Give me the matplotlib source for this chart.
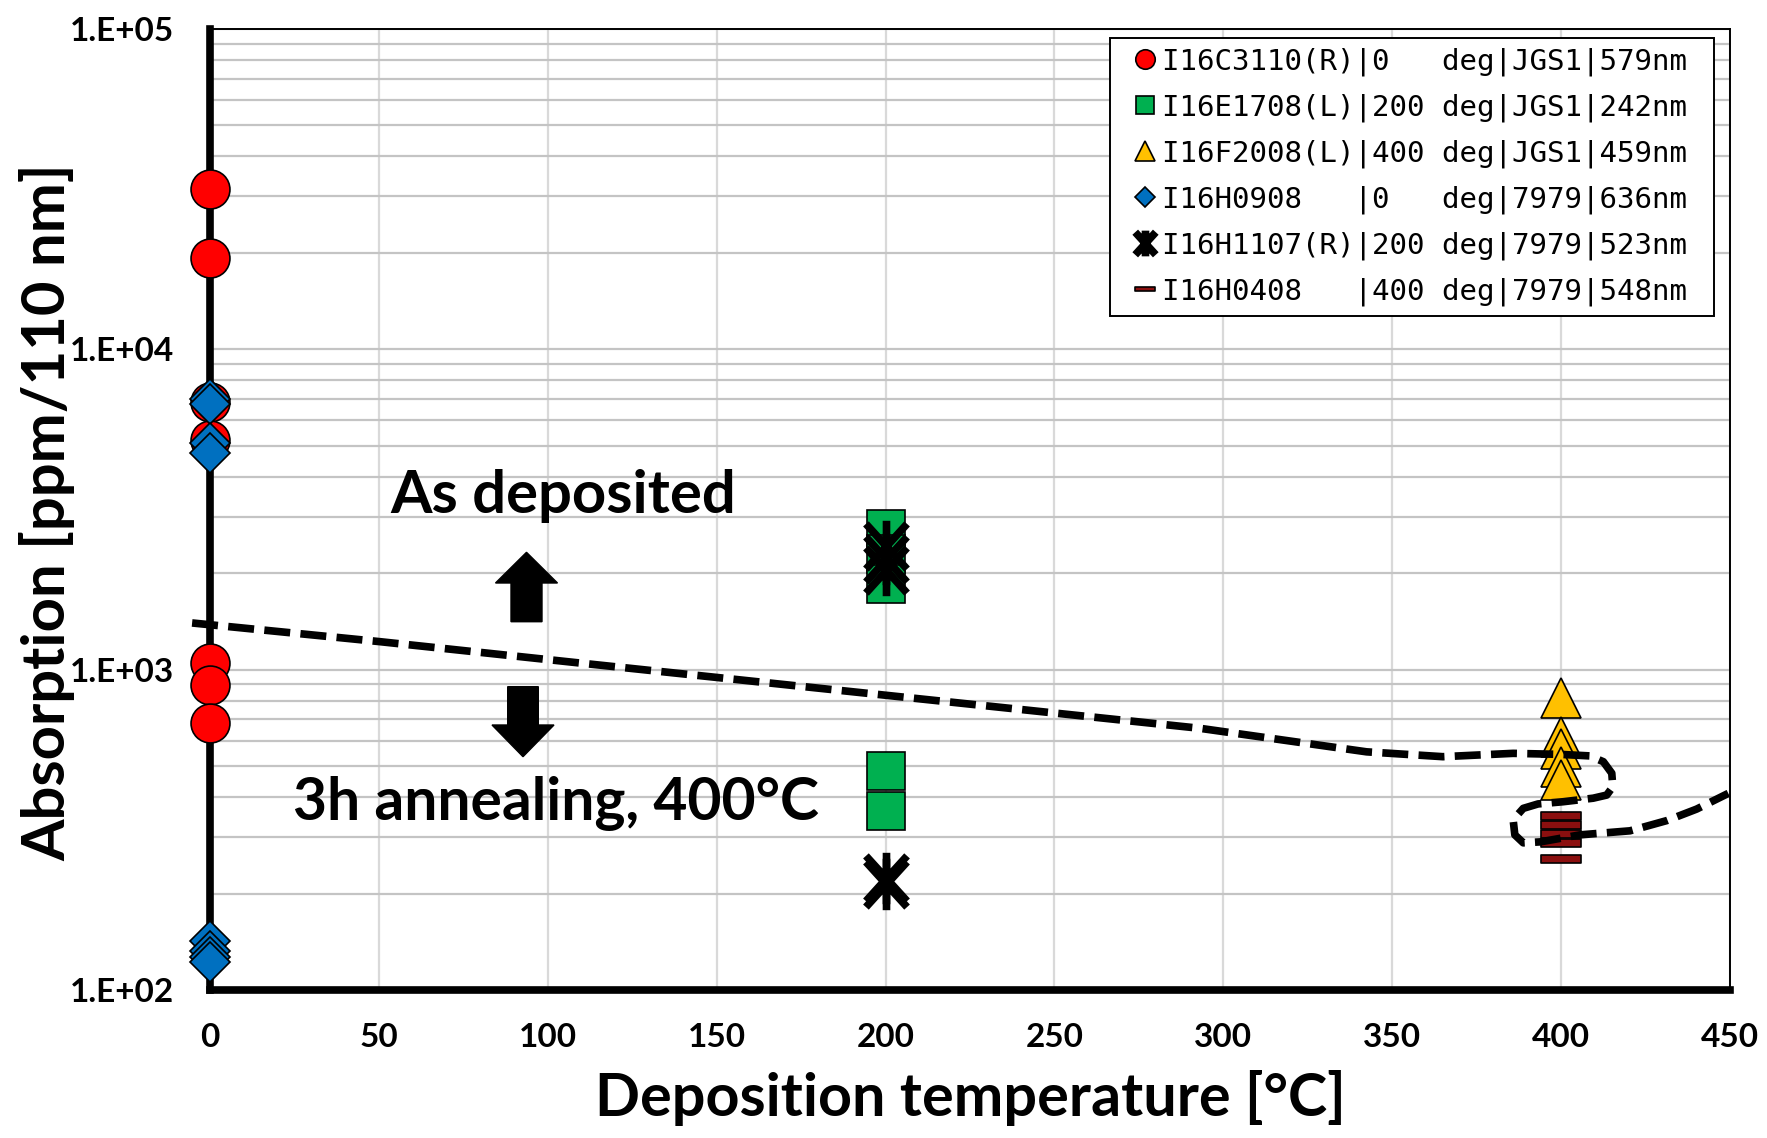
import numpy as np
import matplotlib
matplotlib.use('Agg')
import matplotlib.pyplot as plt
from matplotlib.path import Path
from matplotlib.patches import FancyArrow
from matplotlib.ticker import FixedLocator, FuncFormatter, LogLocator, NullFormatter

# fonts: Lato ~ Calibri
plt.rcParams['font.family'] = ['Lato', 'DejaVu Sans']
plt.rcParams['font.weight'] = 'bold'

# data (deposition temperature, absorption ppm/110 nm)
labels = ['I16C3110(R)|0   deg|JGS1|579nm',
          'I16E1708(L)|200 deg|JGS1|242nm',
          'I16F2008(L)|400 deg|JGS1|459nm',
          'I16H0908   |0   deg|7979|636nm',
          'I16H1107(R)|200 deg|7979|523nm',
          'I16H0408   |400 deg|7979|548nm']

t_c3110 = [0, 0, 0, 0, 0, 0, 0]
a_c3110 = [31700, 19300, 6860, 5210, 1046, 895, 680]
t_e1708 = [200, 200, 200, 200, 200]
a_e1708 = [2750, 2300, 1850, 484, 363]
t_f2008 = [400, 400, 400, 400, 400]
a_f2008 = [815, 616, 566, 498, 452]
t_h0908 = [0, 0, 0, 0, 0, 0, 0, 0]
a_h0908 = [7000, 6750, 5100, 4750, 142, 132, 127, 122]
t_h1107 = [200, 200, 200, 200, 200]
a_h1107 = [2430, 2220, 2040, 224, 214]
t_h0408 = [400, 400, 400, 400, 400]
a_h0408 = [349, 328, 308, 287, 257]

# dashed separation curve (hand drawn in the original)
guide_t = [-5.3, 50.3, 109.5, 233.9, 293.1, 342.4, 365.0, 385.8, 399.7, 408.5,
           412.5, 415.0, 415.3, 413.5, 409.5, 400.6, 393.2, 388.8, 385.8, 386.3,
           388.8, 393.8, 405.6, 420.4, 431.3, 440.1, 449.5]
guide_a = [1399, 1223, 1049, 763, 656, 554, 535, 548, 544, 538,
           516, 475, 431, 406, 397, 387, 381, 369, 340, 305,
           288, 290, 305, 314, 338, 367, 411]

# custom markers: excel asterisk and dash
star = Path([(-1, -1.1), (1, 1.1), (-1, 1.1), (1, -1.1), (0, -1.25), (0, 1.25)],
            [Path.MOVETO, Path.LINETO, Path.MOVETO, Path.LINETO, Path.MOVETO, Path.LINETO])
dash = Path([(-1, -0.18), (1, -0.18), (1, 0.18), (-1, 0.18), (-1, -0.18)],
            [Path.MOVETO, Path.LINETO, Path.LINETO, Path.LINETO, Path.CLOSEPOLY])

W, H = 1767, 1138
fig = plt.figure(figsize=(W / 100, H / 100), dpi=100)
ax = fig.add_axes([210 / W, 1 - 990 / H, 1520 / W, 961 / H])

kw = dict(linestyle='none', mec='black', mew=1.2, clip_on=False)
ax.plot(t_c3110, a_c3110, marker='o', ms=28, mfc='#FF0000', label=labels[0] + ' ', zorder=3, **kw)
ax.plot(t_e1708, a_e1708, marker='s', ms=27, mfc='#00B050', label=labels[1] + ' ', zorder=3, **kw)
ax.plot(t_f2008, a_f2008, marker='^', ms=29, mfc='#FFC000', label=labels[2] + ' ', zorder=3, **kw)
ax.plot(t_h0908, a_h0908, marker='D', ms=20, mfc='#0070C0', label=labels[3] + ' ', zorder=4, **kw)
ax.plot(t_h1107, a_h1107, marker=star, ms=37, mfc='black', linestyle='none', mec='black',
        mew=5.5, clip_on=False, label=labels[4] + ' ', zorder=4)
ax.plot(t_h0408, a_h0408, marker=dash, ms=28.5, mfc='#8B0F0F', label=labels[5] + ' ', zorder=4, **kw)

ax.plot(guide_t, guide_a, color='black', lw=5.5, dashes=(3.4, 1.35), dash_capstyle='butt',
        solid_joinstyle='round', clip_on=False, zorder=10)

ax.set_xlim(0, 450)
ax.set_yscale('log')
ax.set_ylim(100, 1e5)
ax.set_xticks(range(0, 451, 50))
ax.yaxis.set_major_locator(FixedLocator([1e2, 1e3, 1e4, 1e5]))
ax.yaxis.set_major_formatter(FuncFormatter(lambda v, p: '1.E+%02d' % int(round(np.log10(v)))))
ax.yaxis.set_minor_locator(LogLocator(base=10, subs=range(2, 10)))
ax.yaxis.set_minor_formatter(NullFormatter())
ax.tick_params(which='both', length=0)
ax.tick_params(axis='x', labelsize=24, pad=24)
ax.tick_params(axis='y', labelsize=24, pad=26)

ax.set_axisbelow(True)
ax.grid(axis='y', which='both', color='#C4C4C4', lw=1.6)
ax.grid(axis='x', which='major', color='#D9D9D9', lw=1.6)

for s in ['left', 'bottom']:
    ax.spines[s].set_linewidth(5.5)
for s in ['top', 'right']:
    ax.spines[s].set_linewidth(1.4)

fig.text(970 / W, 1 - 1116 / H, 'Deposition temperature [°C]', fontsize=42.7,
         ha='center', va='baseline')
fig.text(47 / W, 1 - 512 / H, 'Absorption [ppm/110 nm]', fontsize=43,
         rotation=90, ha='center', va='center')

fig.text(390 / W, 1 - 513 / H, 'As deposited', fontsize=43, ha='left', va='baseline')
fig.text(293 / W, 1 - 820 / H, '3h annealing, 400°C', fontsize=42.3, ha='left', va='baseline')

# arrows (inches)
fig.add_artist(FancyArrow(5.265, 5.163, 0, 0.694, width=0.31, head_width=0.62,
                          head_length=0.307, length_includes_head=True,
                          color='black', transform=fig.dpi_scale_trans))
fig.add_artist(FancyArrow(5.23, 4.513, 0, -0.70, width=0.306, head_width=0.62,
                          head_length=0.317, length_includes_head=True,
                          color='black', transform=fig.dpi_scale_trans))

leg = ax.legend(loc='upper right', bbox_to_anchor=(1714 / W, 1 - 38 / H),
                bbox_transform=fig.transFigure, borderaxespad=0,
                prop={'family': 'DejaVu Sans Mono', 'size': 21, 'weight': 'normal'},
                markerscale=0.5, numpoints=1, handlelength=1.73, handletextpad=-0.28,
                borderpad=0.33, labelspacing=0.6, fancybox=False, framealpha=1)
leg.get_frame().set_edgecolor('black')
leg.get_frame().set_linewidth(1.4)
leg.set_zorder(20)

fig.savefig('out.png', dpi=100)
